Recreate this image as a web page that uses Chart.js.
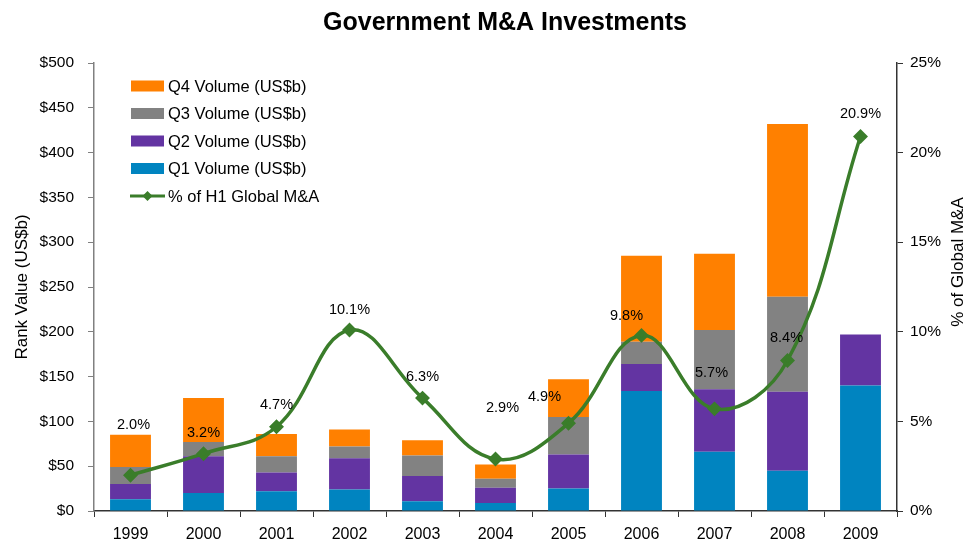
<!DOCTYPE html>
<html>
<head>
<meta charset="utf-8">
<script src="https://cdn.jsdelivr.net/npm/chart.js@4"></script>
<style>
html,body{margin:0;padding:0;background:#fff;}
#wrap{width:965px;height:543px;position:relative;}
</style>
</head>
<body>
<div id="wrap"><canvas id="c" width="965" height="543"></canvas></div>
<script>
const years = ['1999','2000','2001','2002','2003','2004','2005','2006','2007','2008','2009'];
const q1Volume = [13, 20, 22, 24, 11, 9, 25, 134, 66, 45, 140];
const q2Volume = [17, 41, 21, 35, 28, 17, 38, 30, 70, 88, 57];
const q3Volume = [19, 16, 18, 13, 23, 10, 42, 25, 66, 106, 0];
const q4Volume = [36, 49, 25, 19, 17, 16, 42, 96, 85, 193, 0];
const pctGlobal = [2.0, 3.2, 4.7, 10.1, 6.3, 2.9, 4.9, 9.8, 5.7, 8.4, 20.9];
const leftTicks = [0, 50, 100, 150, 200, 250, 300, 350, 400, 450, 500];
const rightTicks = [0, 5, 10, 15, 20, 25];
const chartTitle = 'Government M&A Investments';
const rightTitle = '% of Global M&A';

// label nudges relative to each point (styling only)
const labelNudge = [[3,-50],[0,-21],[0,-22],[0,-20],[0,-21],[7,-51],[-24,-26],[-15,-19],[-3,-36],[-1,-22],[0,-22]];

const FONT = "'Liberation Sans', Arial, sans-serif";
const colors = {q1:'#0084C0', q2:'#6334A2', q3:'#828282', q4:'#FF8000', line:'#3A7D2A'};

const legendItems = [
  {text:'Q4 Volume (US$b)', color:colors.q4, type:'box'},
  {text:'Q3 Volume (US$b)', color:colors.q3, type:'box'},
  {text:'Q2 Volume (US$b)', color:colors.q2, type:'box'},
  {text:'Q1 Volume (US$b)', color:colors.q1, type:'box'},
  {text:'% of H1 Global M&A', color:colors.line, type:'line'}
];

const legendPlugin = {
  id:'customLegend',
  afterDraw(chart){
    const ctx = chart.ctx;
    ctx.save();
    // title
    ctx.font = 'bold 25px ' + FONT;
    ctx.fillStyle = '#000';
    ctx.textAlign = 'center';
    ctx.textBaseline = 'middle';
    ctx.fillText(chartTitle, 505, 23);

    ctx.font = '16.5px ' + FONT;
    ctx.textBaseline = 'middle';
    legendItems.forEach((it,i)=>{
      const y = 86 + i*27.5;
      if(it.type==='box'){
        ctx.fillStyle = it.color;
        ctx.fillRect(131, y-5.5, 33, 11);
      } else {
        ctx.strokeStyle = it.color; ctx.lineWidth = 3;
        ctx.beginPath(); ctx.moveTo(130,y); ctx.lineTo(165,y); ctx.stroke();
        ctx.fillStyle = it.color;
        ctx.beginPath(); ctx.moveTo(147.5,y-5); ctx.lineTo(152.5,y); ctx.lineTo(147.5,y+5); ctx.lineTo(142.5,y); ctx.closePath(); ctx.fill();
      }
      ctx.fillStyle = '#000';
      ctx.textAlign = 'left';
      ctx.fillText(it.text, 168, y+1);
    });
    // right axis title, reading bottom-to-top
    ctx.font = '17px ' + FONT;
    ctx.translate(958, 262);
    ctx.rotate(-Math.PI/2);
    ctx.textAlign = 'center';
    ctx.fillStyle = '#000';
    ctx.fillText(rightTitle, 0, 0);
    ctx.restore();
  }
};

const labelPlugin = {
  id:'pctLabels',
  afterDatasetsDraw(chart){
    const meta = chart.getDatasetMeta(4);
    const ctx = chart.ctx;
    ctx.save();
    ctx.font = '14.5px ' + FONT;
    ctx.fillStyle = '#000';
    ctx.textAlign = 'center';
    ctx.textBaseline = 'middle';
    meta.data.forEach((pt,i)=>{
      const n = labelNudge[i];
      ctx.fillText(pctGlobal[i].toFixed(1)+'%', pt.x+n[0], pt.y+n[1]);
    });
    ctx.restore();
  }
};

new Chart(document.getElementById('c'), {
  type:'bar',
  data:{
    labels: years,
    datasets:[
      {label:'Q1 Volume (US$b)', data:q1Volume, backgroundColor:colors.q1, yAxisID:'y', order:1, stack:'s'},
      {label:'Q2 Volume (US$b)', data:q2Volume, backgroundColor:colors.q2, yAxisID:'y', order:1, stack:'s'},
      {label:'Q3 Volume (US$b)', data:q3Volume, backgroundColor:colors.q3, yAxisID:'y', order:1, stack:'s'},
      {label:'Q4 Volume (US$b)', data:q4Volume, backgroundColor:colors.q4, yAxisID:'y', order:1, stack:'s'},
      {type:'line', label:'% of H1 Global M&A', data:pctGlobal, yAxisID:'y1', order:0,
       borderColor:colors.line, backgroundColor:colors.line, borderWidth:3.5, tension:0.4,
       pointStyle:'rectRot', pointRadius:5, pointHoverRadius:5, fill:false}
    ]
  },
  options:{
    responsive:false,
    animation:false,
    devicePixelRatio:1,
    layout:{padding:{left:0, right:0, top:63, bottom:0}},
    datasets:{bar:{categoryPercentage:1, barPercentage:0.56}},
    plugins:{
      legend:{display:false},
      tooltip:{enabled:false},
      title:{display:false}
    },
    scales:{
      x:{
        stacked:true,
        afterFit(axis){ axis.height = 32; },
        grid:{display:true, drawOnChartArea:false, drawTicks:true, tickLength:6, color:'#333', offset:true},
        border:{color:'#333', width:1.5},
        ticks:{color:'#000', font:{family:FONT, size:16, lineHeight:1}, padding:10, maxRotation:0, autoSkip:false}
      },
      y:{
        stacked:true, position:'left', min:0, max:500,
        afterFit(axis){ axis.width = 94; },
        afterBuildTicks(axis){ axis.ticks = leftTicks.map(v=>({value:v})); },
        grid:{display:true, drawOnChartArea:false, drawTicks:true, tickLength:6, color:'#808080'},
        border:{color:'#808080', width:1.5},
        ticks:{color:'#000', font:{family:FONT, size:15.5}, padding:14, callback:v=>'$'+v},
        title:{display:true, text:'Rank Value (US$b)', color:'#000', font:{family:FONT, size:17}, padding:{top:12,bottom:0}}
      },
      y1:{
        stacked:false, position:'right', min:0, max:25,
        afterFit(axis){ axis.width = 68; },
        afterBuildTicks(axis){ axis.ticks = rightTicks.map(v=>({value:v})); },
        grid:{display:true, drawOnChartArea:false, drawTicks:true, tickLength:6, color:'#333'},
        border:{color:'#333', width:1.5},
        ticks:{color:'#000', font:{family:FONT, size:15.5}, padding:7, callback:v=>v+'%'},
        title:{display:false}
      }
    }
  },
  plugins:[legendPlugin, labelPlugin]
});
</script>
</body>
</html>
